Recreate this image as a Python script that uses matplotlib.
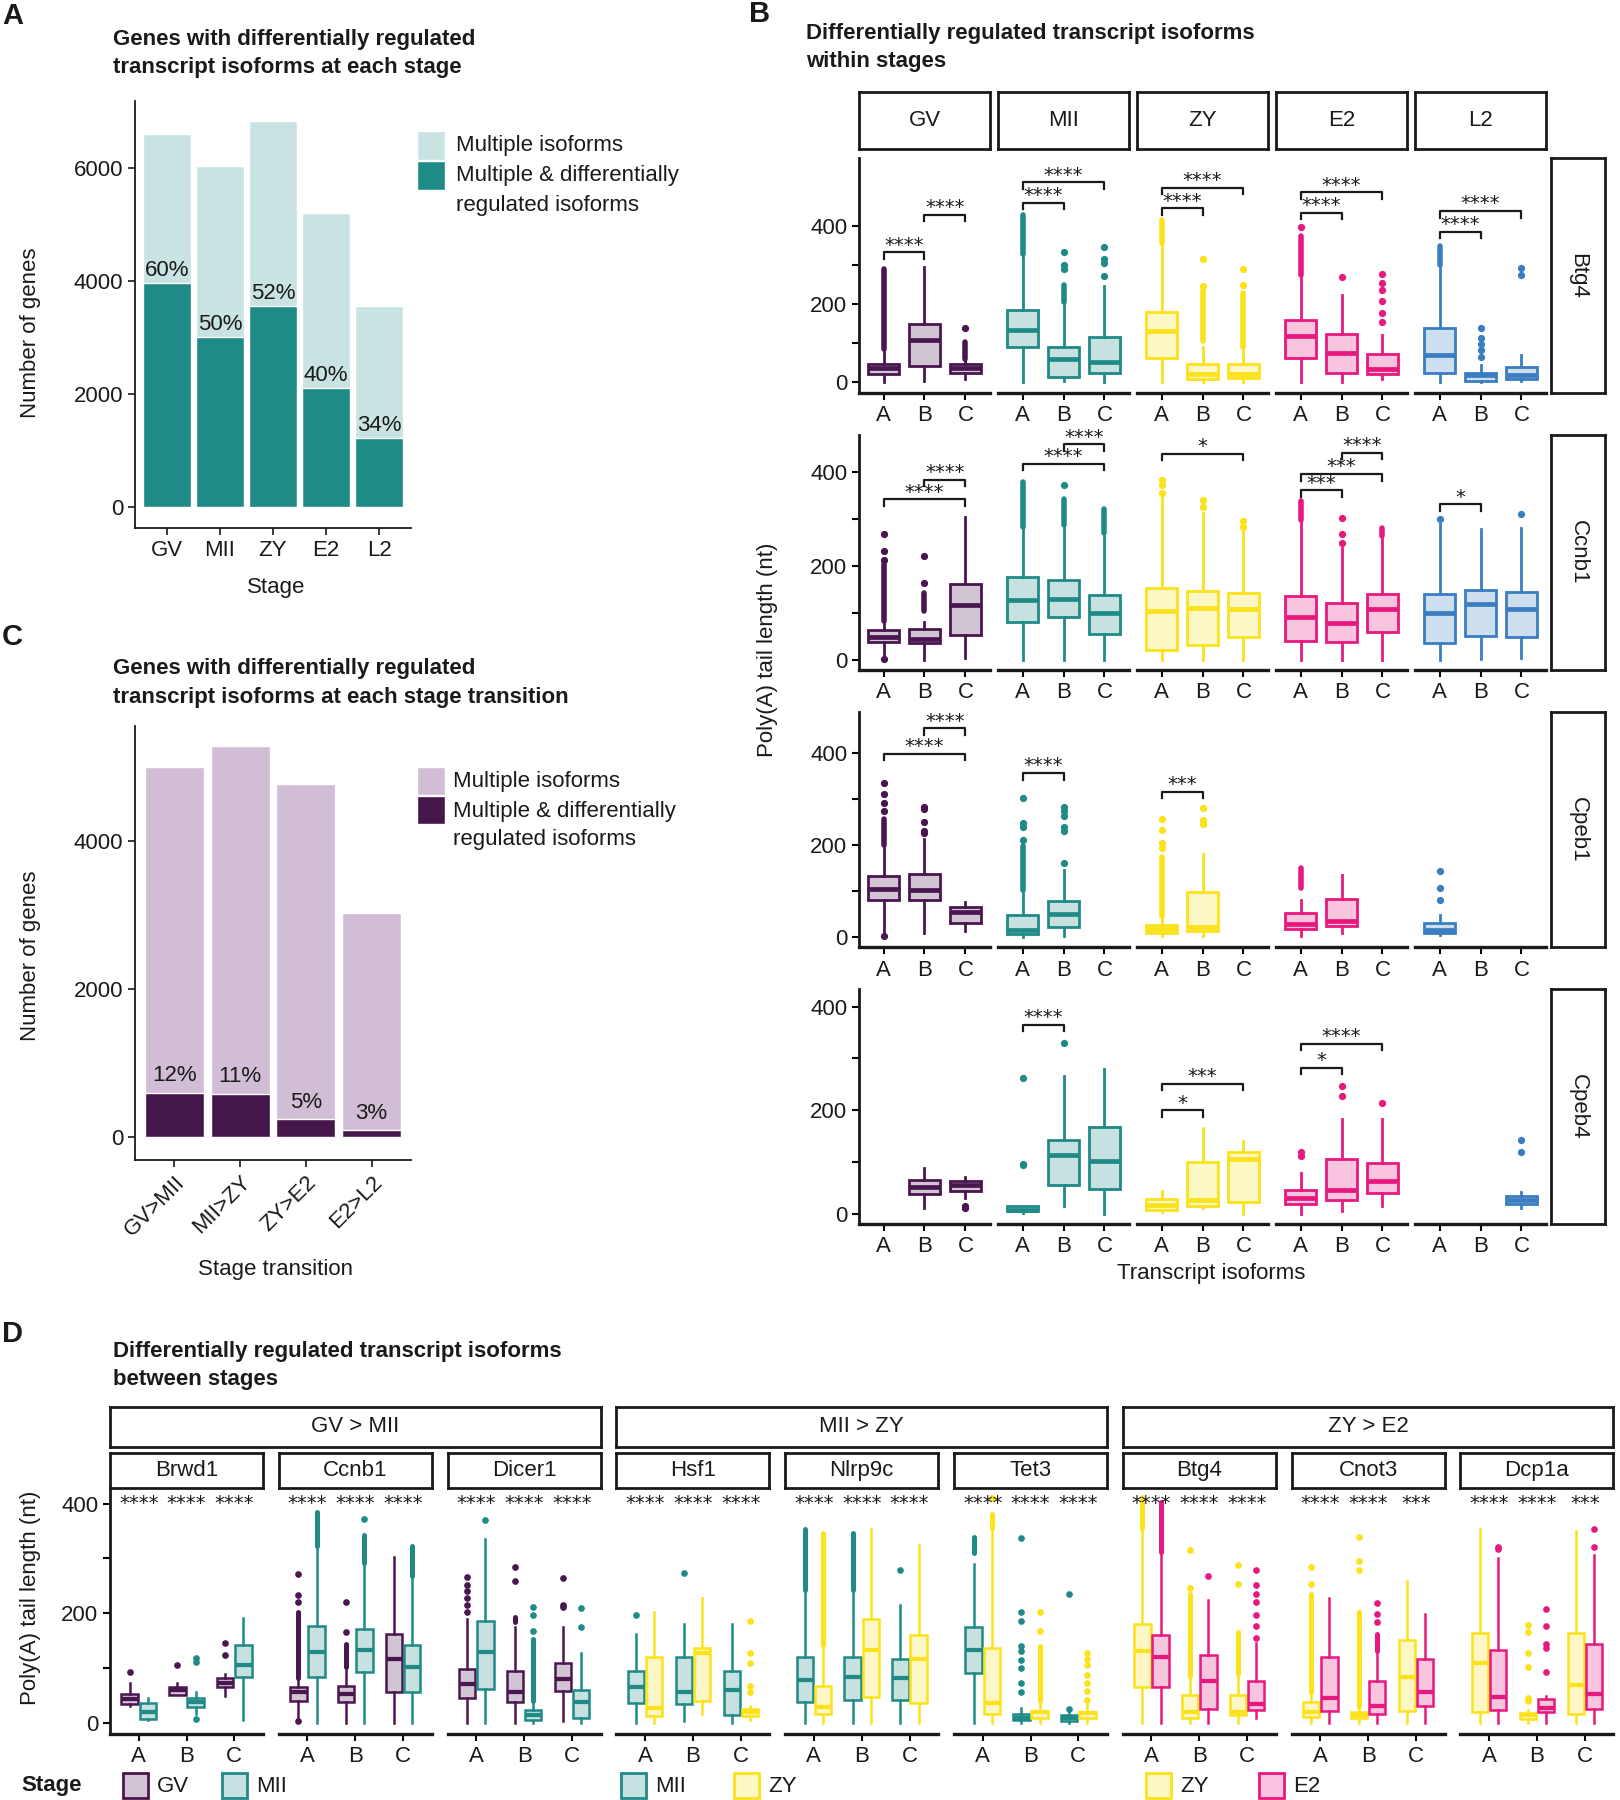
import numpy as np
import matplotlib
matplotlib.use('Agg')
import matplotlib.pyplot as plt
from matplotlib.patches import Rectangle
from matplotlib.colors import to_rgba
from matplotlib import font_manager

plt.rcParams['font.family'] = ['Liberation Sans', 'DejaVu Sans']
_names = {f.name for f in font_manager.fontManager.ttflist}
HAS_NARROW = 'Liberation Sans Narrow' in _names
NARROW = ['Liberation Sans Narrow', 'Liberation Sans'] if HAS_NARROW else ['Liberation Sans', 'DejaVu Sans']
NFS = 18 if HAS_NARROW else 16

# ---------------- DATA ----------------
# Panel A
A_stages = ['GV', 'MII', 'ZY', 'E2', 'L2']
A_total = [6600, 6030, 6830, 5200, 3560]
A_diff = [3960, 3000, 3560, 2100, 1220]
A_pct = ['60%', '50%', '52%', '40%', '34%']

# Panel C
C_trans = ['GV>MII', 'MII>ZY', 'ZY>E2', 'E2>L2']
C_total = [5000, 5290, 4770, 3030]
C_diff = [600, 580, 240, 90]
C_pct = ['12%', '11%', '5%', '3%']

# Panel B: per stage, isoforms A,B,C: (whislo, q1, med, q3, whishi, dense-outlier-range, outliers)
B_stages = ['GV', 'MII', 'ZY', 'E2', 'L2']
B_genes = ['Btg4', 'Ccnb1', 'Cpeb1', 'Cpeb4']
B_BTG4 = {
    'GV': [(0, 22, 36, 47, 84, (86, 290), []), (4, 41, 108, 148, 295, None, []),
           (9, 24, 36, 47, 56, (58, 103), [140])],
    'MII': [(0, 90, 134, 185, 325, (328, 428), []), (2, 13, 58, 91, 198, (205, 250), [290, 300, 335]),
            (0, 23, 52, 116, 246, None, [272, 306, 315, 347])],
    'ZY': [(0, 63, 131, 181, 355, (358, 415), []), (0, 9, 20, 47, 90, (105, 233), [247, 316]),
           (0, 11, 22, 47, 86, (90, 228), [250, 289])],
    'E2': [(0, 63, 118, 160, 272, (275, 375), [399]), (0, 24, 75, 123, 224, None, [269]),
           (8, 22, 33, 72, 121, None, [155, 177, 207, 237, 254, 278])],
    'L2': [(0, 23, 69, 138, 297, (300, 349), []), (0, 4, 17, 24, 43, None, [65, 82, 99, 112, 138]),
           (3, 7, 17, 39, 69, None, [274, 293])],
}
B_CCNB1 = {
    'GV': [(6, 39, 50, 64, 82, (84, 204), [2, 214, 232, 269]), (0, 36, 46, 66, 82, (104, 143), [164, 221]),
           (4, 54, 117, 161, 304, None, [])],
    'MII': [(0, 82, 127, 176, 282, (284, 379), []), (0, 91, 131, 171, 286, (288, 343), [373]),
            (0, 56, 101, 139, 264, (271, 321), [])],
    'ZY': [(0, 22, 105, 154, 350, None, [356, 372, 384]), (0, 32, 111, 148, 314, None, [326, 341]),
           (0, 49, 108, 143, 279, None, [284, 296])],
    'E2': [(0, 41, 91, 136, 296, (298, 339), []), (0, 39, 79, 121, 239, None, [250, 268, 302]),
           (0, 59, 109, 141, 257, (264, 282), [])],
    'L2': [(0, 36, 100, 141, 289, None, [300]), (3, 52, 120, 150, 279, None, []),
           (4, 49, 109, 145, 282, None, [311])],
}
B_CPEB1 = {
    'GV': [(8, 80, 104, 132, 197, (200, 256), [3, 274, 292, 311, 335]),
           (8, 80, 102, 137, 214, None, [227, 230, 250, 279, 284]), (12, 31, 55, 66, 77, None, [])],
    'MII': [(0, 7, 16, 48, 99, (102, 197), [212, 239, 249, 303]),
            (2, 22, 49, 78, 146, None, [161, 230, 239, 263, 274, 284]), None],
    'ZY': [(3, 9, 18, 26, 44, (46, 175), [194, 205, 234, 257]), (2, 12, 22, 97, 181, None, [247, 254, 281]), None],
    'E2': [(3, 18, 29, 51, 80, (106, 150), []), (8, 23, 35, 82, 134, None, []), None],
    'L2': [(4, 9, 16, 31, 48, None, [80, 106, 143]), None, None],
}
B_CPEB4 = {
    'GV': [None, (10, 37, 51, 65, 88, None, []), (30, 43, 55, 63, 71, None, [11, 14])],
    'MII': [(1, 5, 8, 14, 14, None, [94, 96, 263]), (15, 56, 114, 143, 266, None, [330]),
            (0, 48, 101, 168, 279, None, [])],
    'ZY': [(3, 8, 17, 28, 43, None, []), (10, 15, 26, 99, 166, None, []), (0, 22, 105, 119, 141, None, [])],
    'E2': [(0, 19, 30, 46, 79, None, [111, 119]), (5, 26, 45, 106, 183, None, [227, 246]),
           (15, 39, 64, 98, 183, None, [214])],
    'L2': [None, None, (10, 19, 27, 35, 41, None, [120, 143])],
}
# significance brackets: (stage, isoform i, isoform j, y, label)
BR_BTG4 = [('GV', 0, 1, 333, '****'), ('GV', 1, 2, 430, '****'), ('MII', 0, 1, 460, '****'),
           ('MII', 0, 2, 513, '****'), ('ZY', 0, 1, 446, '****'), ('ZY', 0, 2, 499, '****'),
           ('E2', 0, 1, 435, '****'), ('E2', 0, 2, 487, '****'), ('L2', 0, 1, 386, '****'),
           ('L2', 0, 2, 439, '****')]
BR_CCNB1 = [('GV', 0, 2, 342, '****'), ('GV', 1, 2, 384, '****'), ('MII', 0, 2, 418, '****'),
            ('MII', 1, 2, 459, '****'), ('ZY', 0, 2, 439, '*'), ('E2', 0, 1, 361, '***'),
            ('E2', 0, 2, 396, '***'), ('E2', 1, 2, 441, '****'), ('L2', 0, 1, 332, '*')]
BR_CPEB1 = [('GV', 0, 2, 399, '****'), ('GV', 1, 2, 455, '****'), ('MII', 0, 1, 357, '****'),
            ('ZY', 0, 1, 316, '***')]
BR_CPEB4 = [('MII', 0, 1, 365, '****'), ('ZY', 0, 1, 200, '*'), ('ZY', 0, 2, 251, '***'),
            ('E2', 0, 1, 282, '*'), ('E2', 0, 2, 328, '****')]
B_YLIMS = [(-28, 575), (-21, 479), (-22, 490), (-20, 434)]

# Panel D: per gene, isoforms A,B,C: (earlier stage box, later stage box)
D_groups = ['GV > MII', 'MII > ZY', 'ZY > E2']
D_group_stages = [('GV', 'MII'), ('MII', 'ZY'), ('ZY', 'E2')]
D_genes = ['Brwd1', 'Ccnb1', 'Dicer1', 'Hsf1', 'Nlrp9c', 'Tet3', 'Btg4', 'Cnot3', 'Dcp1a']
D_BRWD1 = [[(30, 33, 43, 53, 73, None, [92]), (4, 6, 19, 36, 45, None, [])],
           [(50, 51, 59, 65, 73, None, [105]), (15, 28, 37, 45, 55, None, [7, 111, 118])],
           [(48, 64, 72, 81, 89, None, [124, 146]), (5, 84, 105, 141, 191, None, [])]]
D_CCNB1 = [[(6, 39, 56, 65, 80, (82, 202), [2, 221, 233, 271]), (0, 83, 129, 176, 320, (322, 385), [])],
           [(0, 38, 53, 67, 99, (101, 143), [165, 221]), (0, 92, 132, 171, 290, (292, 343), [372])],
           [(0, 55, 117, 161, 303, None, []), (0, 55, 102, 141, 265, (267, 322), [])]]
D_DICER1 = [[(0, 45, 70, 97, 190, None, [202, 215, 227, 240, 252, 266]), (0, 62, 129, 185, 335, None, [370])],
            [(0, 37, 55, 94, 174, (183, 193), [259, 285]), (0, 4, 13, 23, 36, (39, 152), [168, 196, 212])],
            [(3, 58, 80, 108, 174, None, [212, 215, 265]), (0, 9, 37, 59, 127, None, [174, 210])]]
D_HSF1 = [[(0, 36, 64, 95, 161, None, [196]), (0, 11, 26, 119, 202, None, [])],
          [(3, 33, 55, 119, 180, None, [274]), (15, 39, 127, 136, 227, None, [])],
          [(0, 13, 59, 95, 180, None, []), (5, 11, 19, 25, 30, None, [55, 67, 108, 127, 186])]]
D_NLRP9C = [[(0, 38, 77, 119, 240, (243, 353), []), (0, 15, 28, 67, 139, (142, 347), [])],
            [(0, 41, 83, 119, 240, (243, 347), []), (0, 46, 133, 190, 354, None, [])],
            [(0, 41, 82, 116, 215, None, [279]), (0, 35, 117, 160, 325, None, [])]]
D_TET3 = [[(0, 90, 133, 174, 290, (309, 340), []), (0, 15, 35, 136, 353, (355, 381), [411])],
          [(0, 4, 9, 15, 26, None, [55, 73, 99, 114, 130, 139, 186, 202, 337]),
           (0, 8, 19, 21, 36, (39, 139), [168, 202])],
          [(0, 3, 8, 13, 19, None, [25, 234]), (0, 8, 17, 20, 33, None, [42, 58, 73, 86, 105, 117, 127])]]
D_BTG4 = [[(0, 64, 131, 180, 353, (355, 413), []), (0, 64, 119, 160, 309, (311, 403), [])],
          [(0, 9, 19, 51, 83, (85, 234), [246, 315]), (0, 25, 75, 124, 224, None, [268])],
          [(0, 13, 20, 50, 86, (89, 165), [254, 287]),
           (8, 22, 33, 75, 146, None, [155, 177, 196, 221, 235, 252, 278])]]
D_CNOT3 = [[(0, 10, 20, 38, 51, (55, 234), [254, 284]), (0, 21, 45, 119, 227, None, [])],
           [(0, 8, 14, 19, 26, (30, 202), [278, 296, 339]), (0, 15, 30, 75, 128, (130, 162), [183, 199, 218])],
           [(0, 21, 83, 151, 259, None, []), (0, 31, 55, 116, 199, None, [])]]
D_DCP1A = [[(0, 19, 109, 163, 354, None, []), (0, 23, 46, 132, 300, None, [318, 321])],
           [(0, 6, 13, 17, 23, None, [39, 45, 102, 127, 165, 178]),
            (0, 19, 26, 43, 48, None, [92, 136, 144, 176, 208])],
           [(0, 15, 68, 163, 350, None, []), (0, 25, 53, 144, 306, None, [321, 354])]]
D_STARS = [['****'] * 3] * 7 + [['****', '****', '***'], ['****', '****', '***']]

STAGE_COLORS = {'GV': '#4A1650', 'MII': '#1F8A86', 'ZY': '#FBE21A', 'E2': '#E8187F', 'L2': '#3B7DC1'}

# ---------------- FIGURE ----------------
W, H = 1620, 1800
fig = plt.figure(figsize=(W / 100, H / 100), dpi=100)
TXT = '#1a1a1a'
STAR_FONT = ['DejaVu Sans']


def px(l, t, r, b):
    return [l / W, 1 - b / H, (r - l) / W, (b - t) / H]


def ftext(x, y, s, **kw):
    kw.setdefault('color', TXT)
    fig.text(x / W, 1 - y / H, s, **kw)


def frect(l, t, r, b, **kw):
    fig.add_artist(Rectangle((l / W, 1 - b / H), (r - l) / W, (b - t) / H,
                             transform=fig.transFigure, **kw))


def strip(l, t, r, b, label, rot=0, fs=NFS):
    a = fig.add_axes(px(l, t, r, b))
    a.set_xticks([]); a.set_yticks([])
    for sp in a.spines.values():
        sp.set_linewidth(2.0); sp.set_color('#1a1a1a')
    a.text(0.5, 0.5, label, ha='center', va='center', rotation=rot, fontsize=fs,
           color=TXT, transform=a.transAxes, family=NARROW)


def draw_box(ax, x, w, s, color, lw=2.0, ms=4.2):
    lo, q1, med, q3, hi, dense, pts = s
    if dense is not None:
        ax.plot([x, x], [dense[0], dense[1]], color=color, lw=ms * 0.95,
                solid_capstyle='round', zorder=2)
    st = dict(whislo=lo, q1=q1, med=med, q3=q3, whishi=hi, fliers=np.array(pts, float))
    ax.bxp([st], positions=[x], widths=w, patch_artist=True, showcaps=False, manage_ticks=False,
           boxprops=dict(facecolor=to_rgba(color, 0.25), edgecolor=color, linewidth=lw),
           medianprops=dict(color=color, linewidth=lw * 1.7, solid_capstyle='butt'),
           whiskerprops=dict(color=color, linewidth=lw),
           flierprops=dict(marker='o', markerfacecolor=color, markeredgecolor=color,
                           markersize=ms, linestyle='none'))


def classic(ax, lw=1.3):
    for k in ('top', 'right'):
        ax.spines[k].set_visible(False)
    for k in ('left', 'bottom'):
        ax.spines[k].set_linewidth(lw); ax.spines[k].set_color('#1a1a1a')
    ax.tick_params(colors='#1a1a1a', labelcolor=TXT, labelsize=16, width=1.2, length=5)


def narrow_ticks(ax):
    for lab in ax.get_xticklabels() + ax.get_yticklabels():
        lab.set_family(NARROW)
        lab.set_fontsize(NFS)


# ---------- Panel A ----------
ftext(2, 16, 'A', fontsize=21, fontweight='bold', ha='left', va='center')
ftext(113, 39, 'Genes with differentially regulated', fontsize=16, fontweight='bold', va='center')
ftext(113, 67, 'transcript isoforms at each stage', fontsize=16, fontweight='bold', va='center')
axA = fig.add_axes(px(135, 101, 411, 528))
xa = np.arange(len(A_stages))
axA.bar(xa, A_total, width=0.9, color='#C9E3E3', edgecolor='white', linewidth=1)
axA.bar(xa, A_diff, width=0.9, color='#1E8B87', edgecolor='white', linewidth=1)
for i in range(len(xa)):
    axA.text(xa[i], A_diff[i] + 40, A_pct[i], ha='center', va='bottom', fontsize=16, color=TXT)
axA.set_xlim(-0.6, 4.6); axA.set_ylim(-372, 7186)
axA.set_xticks(xa); axA.set_xticklabels(A_stages)
axA.set_yticks([0, 2000, 4000, 6000])
classic(axA)
ftext(276, 588, 'Stage', fontsize=16, ha='center', va='center')
ftext(31, 333, 'Number of genes', fontsize=16, rotation=90, ha='center', va='center')
frect(417, 131, 445, 160, facecolor='#C9E3E3', edgecolor='white')
frect(417, 161, 445, 190, facecolor='#1E8B87', edgecolor='white')
ftext(456, 146, 'Multiple isoforms', fontsize=16, va='center')
ftext(456, 176, 'Multiple & differentially', fontsize=16, va='center')
ftext(456, 205, 'regulated isoforms', fontsize=16, va='center')

# ---------- Panel C ----------
ftext(2, 637, 'C', fontsize=21, fontweight='bold', ha='left', va='center')
ftext(113, 669, 'Genes with differentially regulated', fontsize=16, fontweight='bold', va='center')
ftext(113, 697, 'transcript isoforms at each stage transition', fontsize=16, fontweight='bold', va='center')
axC = fig.add_axes(px(135, 726, 411, 1160))
xc = np.arange(len(C_trans))
axC.bar(xc, C_total, width=0.9, color='#D1BDD5', edgecolor='white', linewidth=1)
axC.bar(xc, C_diff, width=0.9, color='#46174A', edgecolor='white', linewidth=1)
for i in range(len(xc)):
    axC.text(xc[i], C_diff[i] + 90, C_pct[i], ha='center', va='bottom', fontsize=16, color=TXT)
axC.set_xlim(-0.6, 3.6); axC.set_ylim(-311, 5554)
axC.set_xticks(xc)
axC.set_xticklabels(C_trans, rotation=45, ha='right', rotation_mode='anchor')
axC.set_yticks([0, 2000, 4000])
classic(axC)
ftext(276, 1270, 'Stage transition', fontsize=16, ha='center', va='center')
ftext(31, 956, 'Number of genes', fontsize=16, rotation=90, ha='center', va='center')
frect(417, 767, 445, 795, facecolor='#D1BDD5', edgecolor='white')
frect(417, 796, 445, 824, facecolor='#46174A', edgecolor='white')
ftext(453, 782, 'Multiple isoforms', fontsize=16, va='center')
ftext(453, 811, 'Multiple & differentially', fontsize=16, va='center')
ftext(453, 840, 'regulated isoforms', fontsize=16, va='center')

# ---------- Panel B ----------
ftext(749, 14, 'B', fontsize=21, fontweight='bold', ha='left', va='center')
ftext(806, 34, 'Differentially regulated transcript isoforms', fontsize=16, fontweight='bold', va='center')
ftext(806, 61, 'within stages', fontsize=16, fontweight='bold', va='center')
col_left = [859, 998, 1137, 1276, 1415]
col_w = 131
row_top = [158, 435, 712, 989]
row_h = 235
B_data = [B_BTG4, B_CCNB1, B_CPEB1, B_CPEB4]
B_br = [BR_BTG4, BR_CCNB1, BR_CPEB1, BR_CPEB4]
for j, st in enumerate(B_stages):
    strip(col_left[j], 92, col_left[j] + col_w, 149, st)
for r, gene in enumerate(B_genes):
    t = row_top[r]
    ylo, yhi = B_YLIMS[r]
    strip(1551, t, 1605, t + row_h, gene, rot=-90)
    for j, st in enumerate(B_stages):
        ax = fig.add_axes(px(col_left[j], t, col_left[j] + col_w, t + row_h))
        ax.set_facecolor('none')
        col = STAGE_COLORS[st]
        for k, s in enumerate(B_data[r][st]):
            if s is not None:
                draw_box(ax, k + 1, 0.75, s, col)
        span = yhi - ylo
        for (bst, i1, i2, yb, lab) in B_br[r]:
            if bst != st:
                continue
            d = 0.028 * span
            ax.plot([i1 + 1, i1 + 1, i2 + 1, i2 + 1], [yb - d, yb, yb, yb - d], color='#1a1a1a', lw=1.6)
            ax.text((i1 + i2) / 2 + 1, yb + 0.03 * span, lab, ha='center', va='center',
                    fontsize=14, color=TXT, family=STAR_FONT)
        ax.set_xlim(0.4, 3.6); ax.set_ylim(ylo, yhi)
        ax.set_xticks([1, 2, 3]); ax.set_xticklabels(['A', 'B', 'C'])
        for k in ('top', 'right'):
            ax.spines[k].set_visible(False)
        ax.spines['bottom'].set_linewidth(2.4); ax.spines['bottom'].set_color('#1a1a1a')
        ax.tick_params(axis='x', labelcolor=TXT, width=1.5, length=5, pad=4)
        if j == 0:
            ax.spines['left'].set_linewidth(2.0); ax.spines['left'].set_color('#1a1a1a')
            ax.set_yticks([0, 100, 200, 300, 400])
            ax.set_yticklabels(['0', '', '200', '', '400'])
            ax.tick_params(axis='y', labelcolor=TXT, width=1.5, length=5)
        else:
            ax.spines['left'].set_visible(False)
            ax.set_yticks([])
        narrow_ticks(ax)
ftext(767, 650, 'Poly(A) tail length (nt)', fontsize=16, rotation=90, ha='center', va='center')
ftext(1211, 1273, 'Transcript isoforms', fontsize=16, ha='center', va='center')

# ---------- Panel D ----------
ftext(2, 1334, 'D', fontsize=21, fontweight='bold', ha='left', va='center')
ftext(113, 1351, 'Differentially regulated transcript isoforms', fontsize=16, fontweight='bold', va='center')
ftext(113, 1379, 'between stages', fontsize=16, fontweight='bold', va='center')
D_data = [D_BRWD1, D_CCNB1, D_DICER1, D_HSF1, D_NLRP9C, D_TET3, D_BTG4, D_CNOT3, D_DCP1A]
step = 168.8
pw = 153
for g in range(3):
    l = 110 + 3 * g * step
    strip(l, 1407, l + 2 * step + pw, 1447, D_groups[g])
for k, gene in enumerate(D_genes):
    l = 110 + k * step
    strip(l, 1453, l + pw, 1488, gene)
    ax = fig.add_axes(px(l, 1490, l + pw, 1734))
    ax.set_facecolor('none')
    s1, s2 = D_group_stages[k // 3]
    for iso in range(3):
        b1, b2 = D_data[k][iso]
        draw_box(ax, iso + 1 - 0.19, 0.34, b1, STAGE_COLORS[s1], lw=1.8, ms=3.8)
        draw_box(ax, iso + 1 + 0.19, 0.34, b2, STAGE_COLORS[s2], lw=1.8, ms=3.8)
        ax.text(iso + 1, 401, D_STARS[k][iso], ha='center', va='center', fontsize=14,
                color=TXT, family=STAR_FONT)
    ax.set_xlim(0.4, 3.6); ax.set_ylim(-21, 425)
    ax.set_xticks([1, 2, 3]); ax.set_xticklabels(['A', 'B', 'C'])
    for kk in ('top', 'right'):
        ax.spines[kk].set_visible(False)
    ax.spines['bottom'].set_linewidth(2.4); ax.spines['bottom'].set_color('#1a1a1a')
    ax.tick_params(axis='x', labelcolor=TXT, width=1.5, length=5, pad=4)
    if k == 0:
        ax.spines['left'].set_linewidth(2.0); ax.spines['left'].set_color('#1a1a1a')
        ax.set_yticks([0, 100, 200, 300, 400])
        ax.set_yticklabels(['0', '', '200', '', '400'])
        ax.tick_params(axis='y', labelcolor=TXT, width=1.5, length=5)
    else:
        ax.spines['left'].set_visible(False)
        ax.set_yticks([])
    narrow_ticks(ax)
ftext(31, 1598, 'Poly(A) tail length (nt)', fontsize=16, rotation=90, ha='center', va='center')

# legend row
ftext(21, 1785, 'Stage', fontsize=16, fontweight='bold', va='center')
leg_items = [(123, 'GV'), (222, 'MII'), (621, 'MII'), (734, 'ZY'), (1146, 'ZY'), (1259, 'E2')]
for x0, st in leg_items:
    c = STAGE_COLORS[st]
    frect(x0, 1773, x0 + 25, 1798, facecolor=to_rgba(c, 0.25), edgecolor=c, linewidth=2)
    ftext(x0 + 34, 1786, st, fontsize=NFS, va='center', family=NARROW)

fig.savefig('out.png', dpi=100)
